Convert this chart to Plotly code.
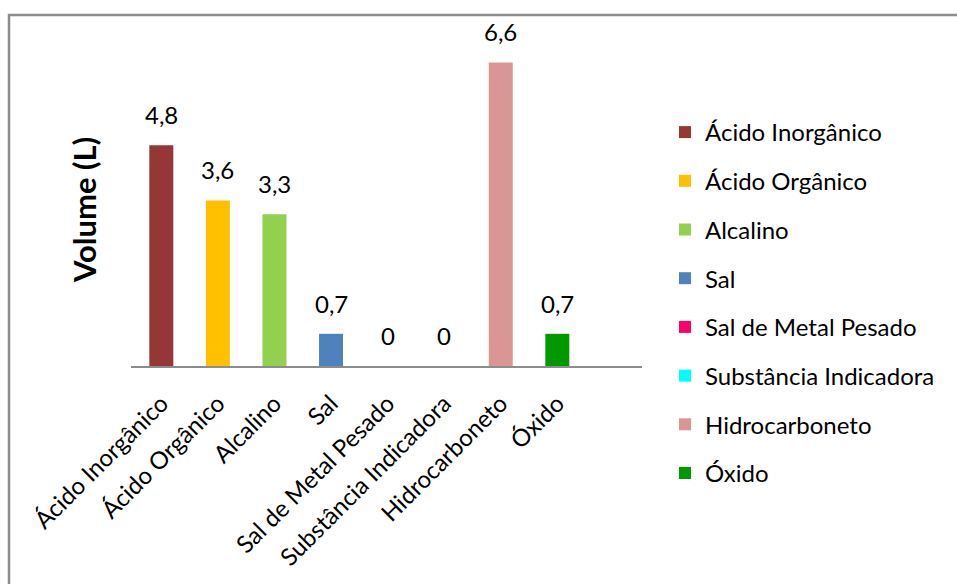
import plotly.graph_objects as go

categories = ["Ácido Inorgânico", "Ácido Orgânico", "Alcalino", "Sal",
              "Sal de Metal Pesado", "Substância Indicadora", "Hidrocarboneto", "Óxido"]
values = [4.8, 3.6, 3.3, 0.7, 0, 0, 6.6, 0.7]
colors = ["#953735", "#FFC000", "#92D050", "#4F81BD",
          "#FF0066", "#00FFFF", "#D99694", "#009900"]
y_title = "Volume (L)"

FONT = "Lato"
FS = 24
W, H = 957, 584
L, R, T, B = 131, 957 - 642, 15, 584 - 366
pw, ph = W - L - R, H - T - B

fig = go.Figure()
for cat, val, col in zip(categories, values, colors):
    fig.add_trace(go.Bar(
        x=[cat], y=[val], name=cat, width=0.424,
        marker=dict(color=col, line=dict(width=0)),
        legendgroup=cat, hoverinfo="skip",
    ))
    fig.add_annotation(
        x=cat, y=val, text=f"{val:g}".replace(".", ","),
        showarrow=False, yanchor="bottom", yshift=14,
        font=dict(family=FONT, size=FS, color="#000000"),
    )

fig.add_annotation(
    x=(63 - L) / pw, y=(366 - 210) / ph, xref="paper", yref="paper",
    text=f"<b>{y_title}</b>", textangle=-90, showarrow=False,
    font=dict(family=FONT, size=31, color="#000000"),
)

# outer chart border
fig.add_shape(
    type="rect", xref="paper", yref="paper",
    x0=(9 - L) / pw, x1=(1000 - L) / pw,
    y0=(366 - 700) / ph, y1=(366 - 15) / ph,
    line=dict(color="#8c8c8c", width=2.5), fillcolor="rgba(0,0,0,0)",
)

fig.update_layout(
    width=W, height=H,
    margin=dict(l=L, r=R, t=T, b=B),
    paper_bgcolor="white", plot_bgcolor="white",
    barmode="overlay",
    font=dict(family=FONT, size=FS, color="#000000"),
    showlegend=True,
    legend=dict(
        x=(665 - L) / pw, xanchor="left",
        y=(366 - 110) / ph, yanchor="top",
        font=dict(family=FONT, size=FS, color="#000000"),
        tracegroupgap=14.5, bgcolor="rgba(0,0,0,0)",
        maxheight=600,
    ),
    xaxis=dict(
        type="category", categoryorder="array", categoryarray=categories,
        range=[-0.536, 8.497], tickangle=-45,
        showline=True, linecolor="#8c8c8c", linewidth=2,
        showgrid=False, zeroline=False,
        ticks="outside", ticklen=12, tickcolor="rgba(0,0,0,0)",
        tickfont=dict(family=FONT, size=FS, color="#000000"),
    ),
    yaxis=dict(range=[0, (366 - 15) / 46], visible=False, showgrid=False, zeroline=False),
)

fig.write_html("out.html")
